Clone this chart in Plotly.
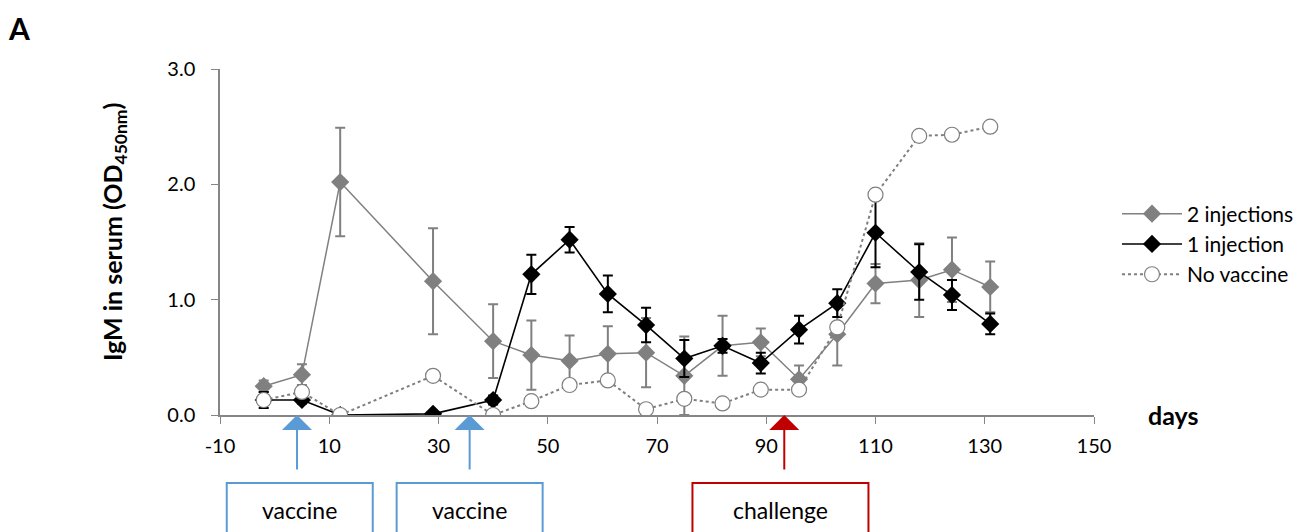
import plotly.graph_objects as go

days = [-2, 5, 12, 29, 40, 47, 54, 61, 68, 75, 82, 89, 96, 103, 110, 118, 124, 131]

two_inj = [0.25, 0.35, 2.02, 1.16, 0.64, 0.52, 0.47, 0.53, 0.54, 0.34, 0.60, 0.63, 0.31, 0.70, 1.14, 1.17, 1.26, 1.11]
two_inj_err = [0.05, 0.09, 0.47, 0.46, 0.32, 0.30, 0.22, 0.24, 0.30, 0.34, 0.26, 0.12, 0.12, 0.27, 0.17, 0.32, 0.28, 0.22]

one_inj = [0.13, 0.13, 0.00, 0.01, 0.13, 1.22, 1.52, 1.05, 0.78, 0.49, 0.60, 0.45, 0.74, 0.97, 1.58, 1.24, 1.04, 0.79]
one_inj_err = [0.07, 0.03, 0.00, 0.00, 0.04, 0.17, 0.11, 0.16, 0.15, 0.16, 0.06, 0.09, 0.12, 0.12, 0.30, 0.24, 0.13, 0.09]

no_vac = [0.13, 0.20, 0.00, 0.34, 0.00, 0.12, 0.26, 0.30, 0.05, 0.14, 0.10, 0.22, 0.22, 0.76, 1.91, 2.42, 2.43, 2.50]

x_ticks = [-10, 10, 30, 50, 70, 90, 110, 130, 150]
x_tick_labels = ["-10", "10", "30", "50", "70", "90", "110", "130", "150"]

vaccine_days = [4.1, 35.7]
challenge_day = 93.3
vaccine_box_centers = [4.6, 35.7]
challenge_box_center = 92.6

FONT = "Lato"
GRAY = "#808080"
BLUE = "#5b9bd5"
RED = "#c00000"

# page has an 8px body margin; plot area target (page px): x 220..1094, y 69..415
OFF = 8
PL, PR, PT, PB = 220 - OFF, 1094 - OFF, 69 - OFF, 415 - OFF
PW, PH = PR - PL, PB - PT


def px_x(xp):
    return (xp - 220) / PW


def px_y(yp):
    return (415 - yp) / PH


fig = go.Figure()

fig.add_trace(go.Scatter(
    x=days, y=two_inj, name="2 injections", mode="lines+markers",
    line=dict(color=GRAY, width=1.5),
    marker=dict(symbol="diamond", size=14, color=GRAY),
    error_y=dict(type="data", array=two_inj_err, visible=True, color=GRAY, thickness=2, width=5),
))
fig.add_trace(go.Scatter(
    x=days, y=one_inj, name="1 injection", mode="lines+markers",
    line=dict(color="black", width=1.6),
    marker=dict(symbol="diamond", size=14, color="black"),
    error_y=dict(type="data", array=one_inj_err, visible=True, color="black", thickness=2, width=5),
))
fig.add_trace(go.Scatter(
    x=days, y=no_vac, name="No vaccine", mode="lines+markers",
    line=dict(color="#7f7f7f", width=2, dash="dot"),
    marker=dict(symbol="circle", size=15, color="white", line=dict(color="#7f7f7f", width=1.2)),
))

px_per_day = PW / 160.0
box_half_vac = 73 / px_per_day
box_half_ch = 88 / px_per_day
box_top = px_y(483)
box_bot = px_y(545)
text_y = px_y(510)

annotations = []
shapes = []
for d, c in zip(vaccine_days, vaccine_box_centers):
    annotations.append(dict(x=d, y=0, xref="x", yref="y", ax=0, ay=68, axref="pixel", ayref="pixel",
                            showarrow=True, arrowhead=1, arrowsize=2.5, arrowwidth=2, arrowcolor=BLUE,
                            standoff=0, text=" "))
    shapes.append(dict(type="rect", xref="x", yref="paper", x0=c - box_half_vac, x1=c + box_half_vac,
                       y0=box_bot, y1=box_top, line=dict(color=BLUE, width=2), fillcolor="white", layer="above"))
    annotations.append(dict(x=c, y=text_y, xref="x", yref="paper", text="vaccine", showarrow=False,
                            xanchor="center", yanchor="middle",
                            font=dict(family=FONT, size=23, color="black")))

annotations.append(dict(x=challenge_day, y=0, xref="x", yref="y", ax=0, ay=68, axref="pixel", ayref="pixel",
                        showarrow=True, arrowhead=1, arrowsize=2.5, arrowwidth=2, arrowcolor=RED,
                        standoff=0, text=" "))
shapes.append(dict(type="rect", xref="x", yref="paper", x0=challenge_box_center - box_half_ch,
                   x1=challenge_box_center + box_half_ch, y0=box_bot, y1=box_top,
                   line=dict(color=RED, width=2), fillcolor="white", layer="above"))
annotations.append(dict(x=challenge_box_center, y=text_y, xref="x", yref="paper", text="challenge",
                        showarrow=False, xanchor="center", yanchor="middle",
                        font=dict(family=FONT, size=23, color="black")))

annotations.append(dict(x=px_x(114), y=px_y(232), xref="paper", yref="paper",
                        text="<b>IgM in serum (OD<sub>450nm</sub>)</b>", textangle=-90, showarrow=False,
                        xanchor="center", yanchor="middle", font=dict(family=FONT, size=25, color="black")))
annotations.append(dict(x=px_x(1173), y=0, xref="paper", yref="y", text="<b>days</b>",
                        showarrow=False, xanchor="center", yanchor="middle",
                        font=dict(family=FONT, size=25, color="black")))
annotations.append(dict(x=px_x(19), y=px_y(28), xref="paper", yref="paper",
                        text="<b>A</b>", showarrow=False, xanchor="center", yanchor="middle",
                        font=dict(family=FONT, size=30, color="black")))
annotations.append(dict(x=px_x(19), y=px_y(525), xref="paper", yref="paper",
                        text="<b>B</b>", showarrow=False, xanchor="center", yanchor="top",
                        font=dict(family=FONT, size=30, color="black")))

fig.update_layout(
    width=1312, height=532,
    margin=dict(l=PL, r=1312 - PR, t=PT, b=532 - PB),
    paper_bgcolor="white", plot_bgcolor="white",
    font=dict(family=FONT, size=20, color="black"),
    showlegend=True,
    legend=dict(x=px_x(1117), y=px_y(244), xanchor="left", yanchor="middle",
                font=dict(family=FONT, size=21, color="black"), bgcolor="rgba(0,0,0,0)",
                tracegroupgap=0, itemwidth=60),
    xaxis=dict(range=[-10, 150], tickvals=x_ticks, ticktext=x_tick_labels, showgrid=False, zeroline=False,
               showline=True, linecolor="#868686", linewidth=1.5, ticks="outside", ticklen=7,
               tickcolor="#868686", tickfont=dict(family=FONT, size=20), anchor="y",
               ticklabelstandoff=5),
    yaxis=dict(range=[0, 3], dtick=1, tickformat=".1f", showgrid=False, zeroline=False,
               showline=True, linecolor="#868686", linewidth=1.5, ticks="outside", ticklen=7,
               tickcolor="#868686", tickfont=dict(family=FONT, size=20), ticklabelstandoff=12),
    annotations=annotations,
    shapes=shapes,
)

fig.write_html("out.html")
